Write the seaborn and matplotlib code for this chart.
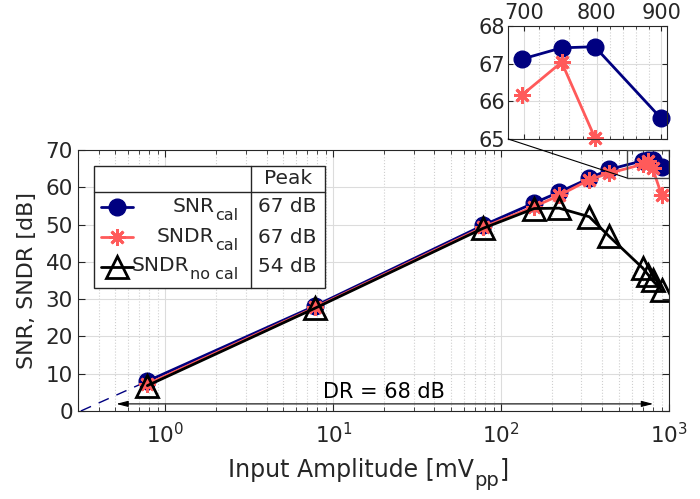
import pandas as pd
import seaborn as sns
import matplotlib.pyplot as plt
from matplotlib.patches import Rectangle, ConnectionPatch
from matplotlib.ticker import FixedLocator, FixedFormatter, NullFormatter, LogLocator

# values
amp = [0.78, 7.8, 78, 157, 221, 334, 440, 697, 750, 797, 900]
snr_cal = [8.0, 28.2, 49.8, 55.8, 58.7, 62.4, 64.8, 67.12, 67.42, 67.45, 65.55]
sndr_cal = [7.2, 27.8, 49.3, 54.8, 57.8, 62.0, 63.8, 66.16, 67.04, 65.04, 58.0]
sndr_nocal = [6.8, 27.6, 49.0, 54.3, 54.4, 52.1, 46.8, 38.3, 36.5, 35.0, 32.4]

names = [('SNR', 'cal'), ('SNDR', 'cal'), ('SNDR', 'no cal')]
dr_span = [0.49, 835]
zoom_box = [560, 1000, 62.5, 70]
inset_x = [680, 910]
inset_y = [65, 68]

sns.set_style('ticks')
plt.rcParams['font.family'] = ['DejaVu Sans']
plt.rcParams['mathtext.default'] = 'regular'

grey = '#262626'
styles = [
    dict(color='#000080', marker='o', markersize=12, mfc='#000080', mec='#000080', mew=1, lw=2),
    dict(color='#ff5a5a', marker=(8, 2, 0), markersize=12, mfc='#ff5a5a', mec='#ff5a5a', mew=2, lw=2),
    dict(color='black', marker='^', markersize=16, mfc='none', mec='black', mew=2, lw=2),
]
series = [snr_cal, sndr_cal, sndr_nocal]

fig = plt.figure(figsize=(7, 4.99), dpi=100)
ax = fig.add_axes([0.111, 0.1764, 0.845, 0.523])

for vals, st in zip(series, styles):
    df = pd.DataFrame({'amp': amp, 'db': vals})
    sns.lineplot(data=df, x='amp', y='db', ax=ax, **st)

# extrapolated SNR line down to 0 dB (20 dB/decade)
slope = (snr_cal[1] - snr_cal[0]) / 1.0
x0 = amp[0] * 10 ** (-snr_cal[0] / slope)
ax.plot([x0, amp[0]], [0, snr_cal[0]], color='#000080', lw=1, ls=(0, (8, 6)), zorder=1)

ax.set_xscale('log')
ax.set_xlim(0.3, 1000)
ax.set_ylim(0, 70)
ax.set_yticks(range(0, 71, 10))
ax.xaxis.set_minor_locator(LogLocator(base=10, subs=range(2, 10)))
ax.xaxis.set_minor_formatter(NullFormatter())
ax.grid(True, which='major', color='#dcdcdc', lw=0.8)
ax.grid(True, which='minor', axis='x', color='#cfcfcf', lw=0.8, ls=':')
ax.tick_params(which='both', direction='in', top=True, right=True, colors=grey, labelsize=15.5)
ax.tick_params(axis='x', which='major', pad=8)
ax.tick_params(which='major', length=5)
ax.tick_params(which='minor', length=3)
for s in ax.spines.values():
    s.set_color(grey)
ax.set_xlabel('')
ax.set_ylabel('SNR, SNDR [dB]', fontsize=16, color=grey, labelpad=6)

# x label with a big, low subscript
t1 = fig.text(0.325, 0.035, 'Input Amplitude [mV', fontsize=17, color=grey, ha='left', va='bottom')
t2 = ax.annotate('pp', xy=(1, 0), xycoords=t1, xytext=(0.5, -6), textcoords='offset points',
                 fontsize=14, color=grey, ha='left', va='bottom')
ax.annotate(']', xy=(1, 0), xycoords=t2, xytext=(0.5, 6), textcoords='offset points',
            fontsize=17, color=grey, ha='left', va='bottom')

# dynamic range arrow
ax.annotate('', xy=(dr_span[1], 1.9), xytext=(dr_span[0], 1.9),
            arrowprops=dict(arrowstyle='<|-|>,head_length=0.7,head_width=0.18', color='black', lw=0.8))
ax.text(20, 5.2, 'DR = 68 dB', ha='center', va='center', fontsize=15, color='black')

# zoom box
ax.add_patch(Rectangle((zoom_box[0], zoom_box[2]), zoom_box[1] - zoom_box[0], zoom_box[3] - zoom_box[2],
                       fill=False, ec='#444444', lw=1, zorder=5))

# legend drawn as a small table
tr = ax.transAxes
ax.add_patch(Rectangle((0.027, 0.471), 0.391, 0.468, transform=tr, fc='white', ec=grey, lw=1, zorder=10))
ax.plot([0.027, 0.418], [0.839, 0.839], transform=tr, color=grey, lw=1, zorder=11)
ax.plot([0.293, 0.293], [0.471, 0.939], transform=tr, color=grey, lw=1, zorder=11)
ax.text(0.355, 0.889, 'Peak', transform=tr, ha='center', va='center', fontsize=14.5, zorder=12)
rows = [0.782, 0.665, 0.553]
for vals, st, (main, sub), ry in zip(series, styles, names, rows):
    line_st = {k: v for k, v in st.items() if k not in ('marker', 'markersize', 'mfc', 'mec', 'mew')}
    ax.plot([0.039, 0.093], [ry, ry], transform=tr, zorder=12, **line_st)
    ax.plot([0.066], [ry], transform=tr, zorder=13, ls='none',
            **{k: v for k, v in st.items() if k != 'lw'})
    s = ax.text(0.271, ry - 0.06, sub, transform=tr, ha='right', va='bottom', fontsize=11.5, zorder=12)
    ax.annotate(main, xy=(0, 0), xycoords=s, xytext=(-0.5, 5), textcoords='offset points',
                ha='right', va='bottom', fontsize=14.5, zorder=12)
    ax.text(0.355, ry, f'{max(vals):.0f} dB', transform=tr, ha='center', va='center', fontsize=14.5, zorder=12)

# inset: only the points inside its window, drawn unclipped
ax_in = fig.add_axes([0.726, 0.7214, 0.227, 0.2265])
for vals, st in zip(series, styles):
    df = pd.DataFrame({'amp': amp, 'db': vals})
    df = df[(df['amp'] >= inset_x[0]) & (df['db'] >= inset_y[0]) & (df['db'] <= inset_y[1])]
    if len(df):
        sns.lineplot(data=df, x='amp', y='db', ax=ax_in, clip_on=False, **st)
ax_in.set_xscale('log')
ax_in.set_xlim(*inset_x)
ax_in.set_ylim(*inset_y)
ax_in.xaxis.set_major_locator(FixedLocator([700, 800, 900]))
ax_in.xaxis.set_major_formatter(FixedFormatter(['700', '800', '900']))
ax_in.xaxis.set_minor_locator(FixedLocator([720, 740, 760, 780, 820, 840, 860, 880]))
ax_in.xaxis.set_minor_formatter(NullFormatter())
ax_in.set_yticks([65, 66, 67, 68])
ax_in.xaxis.tick_top()
ax_in.set_xlabel('')
ax_in.set_ylabel('')
ax_in.grid(True, which='major', color='#dcdcdc', lw=0.8)
ax_in.grid(True, which='minor', axis='x', color='#cfcfcf', lw=0.8, ls=':')
ax_in.tick_params(which='both', direction='in', top=True, bottom=True, right=True,
                  colors=grey, labelsize=15, pad=2)
ax_in.tick_params(which='minor', length=2)
for s in ax_in.spines.values():
    s.set_color(grey)

con = ConnectionPatch(xyA=(inset_x[0], inset_y[0]), coordsA=ax_in.transData,
                      xyB=(zoom_box[0], zoom_box[2]), coordsB=ax.transData,
                      color='black', lw=0.8)
fig.add_artist(con)

fig.savefig('out.png', dpi=100)
